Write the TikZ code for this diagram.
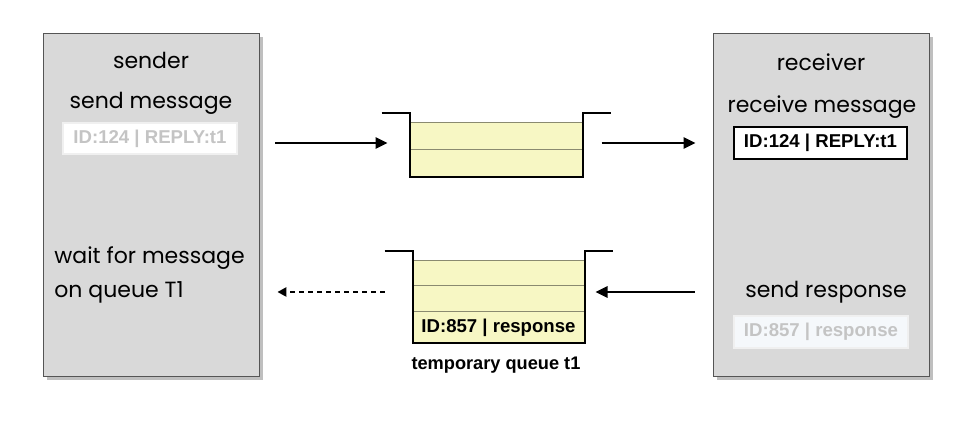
\documentclass[tikz,border=0pt]{standalone}
\usepackage{fontspec}
\setmainfont{Poppins}
\newfontfamily\labelfont{Liberation Sans}
\usepackage{xcolor}
\usetikzlibrary{arrows.meta, positioning, shadows}
\definecolor{boxgray}{HTML}{D9D9D9}
\definecolor{boxline}{HTML}{555555}
\definecolor{slotyellow}{HTML}{F7F7C4}
\definecolor{slotline}{HTML}{8A8A70}
\definecolor{fadetext}{HTML}{C4C4C4}
\definecolor{fadefill}{HTML}{F5F8FB}
\tikzstyle{system} = [rectangle, minimum width=108pt, minimum height=171.5pt, draw=boxline, fill=boxgray, drop shadow={shadow xshift=2pt, shadow yshift=-2pt, opacity=0.5}]
\tikzstyle{caption} = [inner sep=1pt, font=\fontsize{11}{17}\selectfont]
\tikzstyle{msg} = [rectangle, minimum width=86.5pt, minimum height=16pt, inner sep=0pt, draw=black, line width=0.7pt, fill=white, font=\labelfont\bfseries\fontsize{9.3}{11}\selectfont]
\tikzstyle{faded} = [msg, draw=white!88!gray, fill=fadefill, text=fadetext]
\tikzstyle{slot} = [rectangle, minimum width=86pt, minimum height=13.5pt, inner sep=0pt, draw=slotline, line width=0.5pt, fill=slotyellow, font=\labelfont\bfseries\fontsize{9.3}{11}\selectfont]
\tikzstyle{wall} = [line width=1pt, line join=miter]
\tikzstyle{arrow} = [line width=1.3pt, -{Triangle[length=6pt, width=5.5pt]}]

\begin{document}
\begin{tikzpicture}[x=0.5pt, y=-0.5pt]
\useasboundingbox (0,0) rectangle (976,426);

% Sender
\node (sender) [system] at (151,204.5) {};
\node (sendtitle) [caption] at (151,60) {sender};
\node (sendmsg) [caption] at (151,103) {send message};
\node (smsg) [faded, fill=white, minimum width=87pt, minimum height=15.5pt] at (150,138.5) {ID:124 | REPLY:t1};
\node (wait) [caption, anchor=west, align=left] at (52,275) {wait for message\\on queue T1};

% Receiver
\node (receiver) [system] at (821,204.5) {};
\node (recvtitle) [caption] at (821,62) {receiver};
\node (recvmsg) [caption] at (822,107) {receive message};
\node (rmsg) [msg] at (820.5,143) {ID:124 | REPLY:t1};
\node (resp) [caption] at (826,292) {send response};
\node (rresp) [faded, minimum width=87pt] at (821,332) {ID:857 | response};

% Request queue
\node (q1a) [slot] at (496,136.5) {};
\node (q1b) [slot] at (496,163.5) {};
\draw [wall] ([xshift=-14pt, yshift=4.5pt]q1a.north west) -- ([yshift=4.5pt]q1a.north west)
    -- (q1b.south west) -- (q1b.south east) -- ([yshift=4.5pt]q1a.north east) -- ++(14pt,0);

% Temporary queue
\node (q2a) [slot, minimum width=85.5pt, minimum height=12.5pt] at (498.5,273.5) {};
\node (q2b) [slot, minimum width=85.5pt, minimum height=13pt] at (498.5,299) {};
\node (q2c) [slot, minimum width=85.5pt, minimum height=15.5pt] at (498.5,327.5) {ID:857 | response};
\draw [wall] ([xshift=-14pt, yshift=4.5pt]q2a.north west) -- ([yshift=4.5pt]q2a.north west)
    -- (q2c.south west) -- (q2c.south east) -- ([yshift=4.5pt]q2a.north east) -- ++(14pt,0);
\node (qlabel) [font=\labelfont\bfseries\fontsize{9.1}{11}\selectfont] at (496,365) {temporary queue t1};

% Connectors
\draw [arrow] ([xshift=8pt]sender.east |- rmsg) -- ([xshift=-11pt]q1a.west |- rmsg);
\draw [arrow] ([xshift=9.5pt]q1a.east |- rmsg) -- ([xshift=-8.5pt]receiver.west |- rmsg);
\draw [arrow] ([xshift=-9pt]receiver.west |- resp) -- ([xshift=5.5pt]q2b.east |- resp);
\draw [arrow, dash pattern=on 2.5pt off 2pt, -{Triangle[length=4.5pt, width=4.5pt]}] ([xshift=-14pt]q2a.west |- resp) -- ([xshift=9pt]sender.east |- resp);

\end{tikzpicture}
\end{document}
